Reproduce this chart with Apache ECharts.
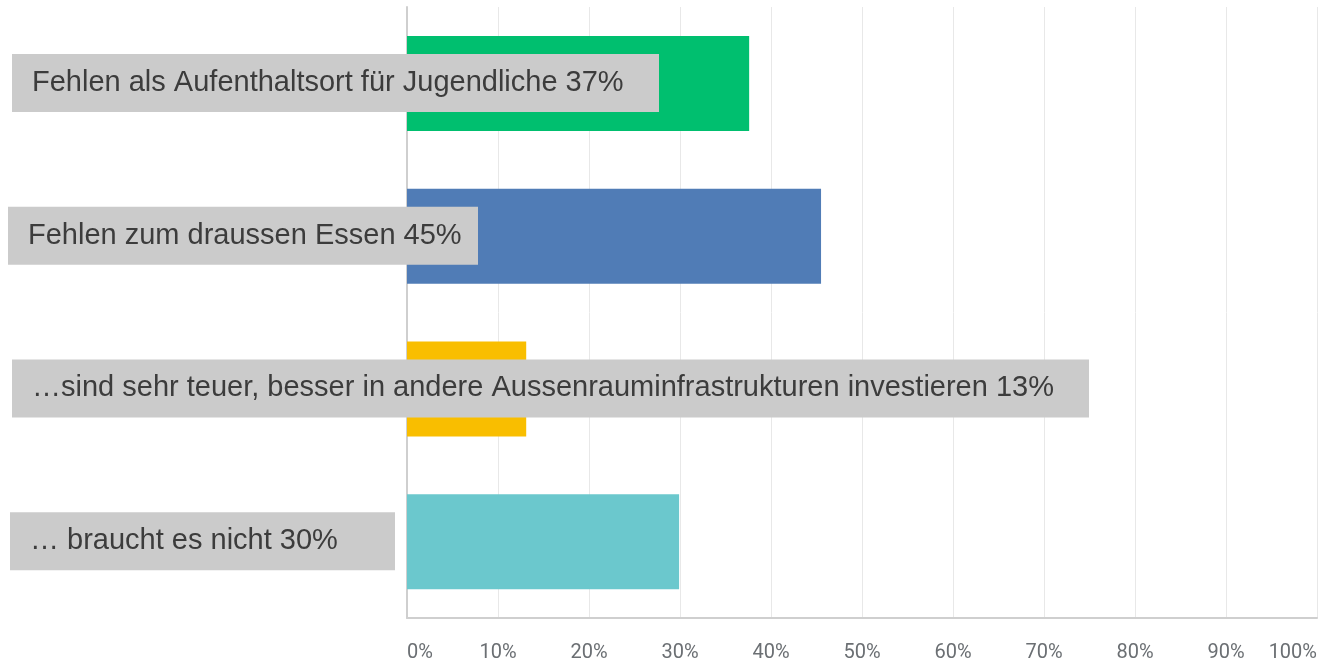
<!DOCTYPE html>
<html>
<head>
<meta charset="utf-8">
<script src="https://cdn.jsdelivr.net/npm/echarts@6/dist/echarts.min.js"></script>
<style>
  html, body { margin: 0; padding: 0; background: #fff; }
  #chart { width: 1321px; height: 664px; }
</style>
</head>
<body>
<div id="chart"></div>
<script>
// Kategorien (von oben nach unten)
const categories = [
  'Fehlen als Aufenthaltsort für Jugendliche',
  'Fehlen zum draussen Essen',
  '…sind sehr teuer, besser in andere Aussenrauminfrastrukturen investieren',
  '… braucht es nicht'
]
// Balkenlängen in %
const values = [37.6, 45.5, 13.1, 29.9]
// Prozentangaben in den Beschriftungen
const labelPercents = [37, 45, 13, 30]
const barColors = ['#00bf6f', '#507cb6', '#f9be00', '#6bc8cd']

// graue Beschriftungsboxen: linker Rand und Breite (px)
const boxLeft = [12, 8, 12, 10]
const boxWidths = [647, 470, 1077, 385]

const GRID_LEFT = 407

const chart = echarts.init(document.getElementById('chart'))

chart.setOption({
  animation: false,
  grid: {
    left: GRID_LEFT,
    right: 4,
    top: 7,
    bottom: 46
  },
  xAxis: {
    type: 'value',
    min: 0,
    max: 100,
    interval: 10,
    axisLine: { show: true, lineStyle: { color: '#cfcfcf', width: 2 } },
    axisTick: { show: false },
    splitLine: { lineStyle: { color: '#e8e8e8', width: 1 } },
    axisLabel: {
      formatter: (v) => v + '%',
      color: '#6b6f73',
      fontFamily: 'Roboto',
      fontSize: 20,
      margin: 25,
      alignMinLabel: 'left',
      alignMaxLabel: 'right'
    }
  },
  yAxis: {
    type: 'category',
    inverse: true,
    data: categories,
    axisLine: { show: true, lineStyle: { color: '#cfcfcf', width: 2 } },
    axisTick: { show: false },
    axisLabel: { show: false }
  },
  series: [{
    type: 'bar',
    barWidth: 95,
    data: values.map((v, i) => ({
      value: v,
      itemStyle: { color: barColors[i] },
      label: {
        show: true,
        position: [boxLeft[i] - GRID_LEFT, 18],
        formatter: categories[i] + ' ' + labelPercents[i] + '%',
        backgroundColor: '#cbcbcb',
        color: '#3c3c3c',
        fontFamily: 'Liberation Sans',
        fontSize: 29,
        width: boxWidths[i] - 20,
        height: 58,
        lineHeight: 58,
        padding: [0, 0, 0, 20],
        align: 'left',
        verticalAlign: 'top'
      }
    }))
  }]
})
</script>
</body>
</html>
